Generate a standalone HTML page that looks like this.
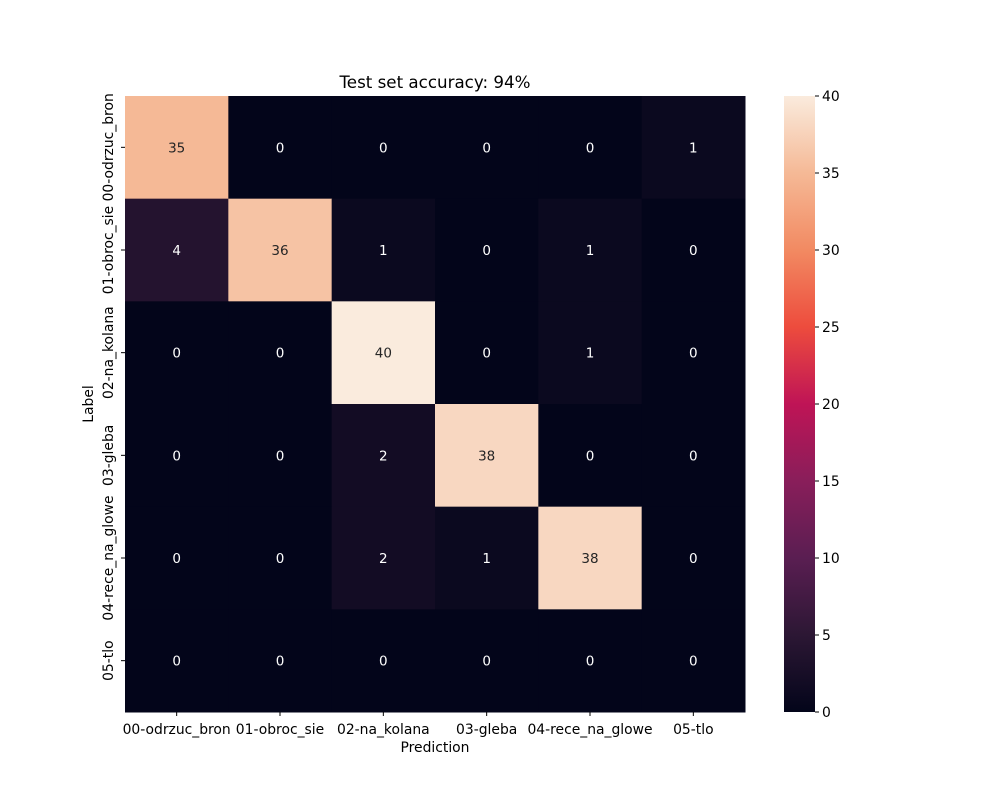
<!DOCTYPE html>
<html><head><meta charset="utf-8"><style>
body{margin:0;background:#fff}
svg{display:block;font-family:"DejaVu Sans","Liberation Sans",sans-serif}
</style></head><body>
<svg id="chart" width="1000" height="800" viewBox="0 0 1000 800">
<defs><linearGradient id="cg" x1="0" y1="1" x2="0" y2="0"></linearGradient></defs>
</svg>
<script>
const categories=["00-odrzuc_bron","01-obroc_sie","02-na_kolana","03-gleba","04-rece_na_glowe","05-tlo"];
const row0=[35,0,0,0,0,1];
const row1=[4,36,1,0,1,0];
const row2=[0,0,40,0,1,0];
const row3=[0,0,2,38,0,0];
const row4=[0,0,2,1,38,0];
const row5=[0,0,0,0,0,0];
const matrix=[row0,row1,row2,row3,row4,row5];
const cbTicks=[0,5,10,15,20,25,30,35,40];
const vmax=40;
const NS="http://www.w3.org/2000/svg";
const svg=document.getElementById('chart');
const L=125,R=745,T=96,B=712;
const n=categories.length,cw=(R-L)/n,ch=(B-T)/n;
const xs=i=>L+i*cw, ys=i=>T+i*ch;
const FS=13.9;
const stops=[[0,"#03051a"],[0.125,"#2c1734"],[0.25,"#5a1e52"],[0.375,"#891e5a"],[0.5,"#bf1456"],[0.625,"#ed4c3d"],[0.75,"#f28a62"],[0.875,"#f5b996"],[1,"#faebdd"]];
function hex(h){return [1,3,5].map(i=>parseInt(h.substr(i,2),16));}
function cmap(t){t=Math.max(0,Math.min(1,t));for(let i=1;i<stops.length;i++){if(t<=stops[i][0]){const a=stops[i-1],b=stops[i];const f=(t-a[0])/(b[0]-a[0]);const ca=hex(a[1]),cb=hex(b[1]);return `rgb(${ca.map((v,k)=>Math.round(v+(cb[k]-v)*f)).join(',')})`;}}return stops[stops.length-1][1];}
function el(tag,attrs,txt){const e=document.createElementNS(NS,tag);for(const k in attrs)e.setAttribute(k,attrs[k]);if(txt!==undefined)e.textContent=txt;svg.appendChild(e);return e;}
const grad=document.getElementById('cg');
stops.forEach(s=>{const st=document.createElementNS(NS,'stop');st.setAttribute('offset',s[0]);st.setAttribute('stop-color',s[1]);grad.appendChild(st);});
matrix.forEach((row,r)=>row.forEach((v,c)=>{
 const rc=el('rect',{x:xs(c),y:ys(r),width:cw+0.5,height:ch+0.5,fill:cmap(v/vmax)});
 
 
 const t=el('text',{x:xs(c)+cw/2,y:ys(r)+ch/2+5,'text-anchor':'middle','font-size':13.5,fill:v/vmax>0.5?'#262626':'#ffffff'},v);
 
 
}));
categories.forEach((c,i)=>{
 const cx=xs(i)+cw/2;
 el('line',{x1:cx,x2:cx,y1:B,y2:B+4,stroke:'#000'});
 const t=el('text',{x:cx,y:B+22,'text-anchor':'middle','font-size':FS},c);
 
 
 const cy=ys(i)+ch/2;
 el('line',{x1:L-4,x2:L,y1:cy,y2:cy,stroke:'#000'});
 const t2=el('text',{x:0,y:0,'text-anchor':'middle','font-size':FS,transform:`translate(${L-12},${cy}) rotate(-90)`},c);
 
 
});
const ttl=el('text',{x:435,y:88,'text-anchor':'middle','font-size':16.7},'Test set accuracy: 94%');

const xl=el('text',{x:435,y:752,'text-anchor':'middle','font-size':FS},'Prediction');

const yl=el('text',{x:0,y:0,'text-anchor':'middle','font-size':FS,transform:`translate(93,404) rotate(-90)`},'Label');

const CL=784,CR=815;
const cb=el('rect',{x:CL,y:T,width:CR-CL,height:B-T,fill:'url(#cg)'});

cbTicks.forEach(v=>{
 const y=B-(v/vmax)*(B-T);
 el('line',{x1:CR,x2:CR+4,y1:y,y2:y,stroke:'#000'});
 const t=el('text',{x:CR+7,y:y+5,'font-size':FS},v);
 
 
});
</script>
</body></html>
